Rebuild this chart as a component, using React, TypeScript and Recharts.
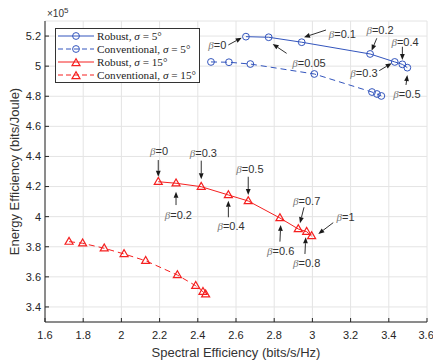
import {
  CartesianGrid,
  ComposedChart,
  Label,
  Legend,
  Line,
  ReferenceDot,
  ReferenceLine,
  XAxis,
  YAxis,
} from "recharts";

// energy efficiency is in units of 1e5 bits/Joule
const robust5X = [2.652, 2.771, 2.944, 3.302, 3.431, 3.471, 3.497];
const robust5Y = [5.196, 5.192, 5.159, 5.081, 5.028, 5.012, 4.99];
const conv5X = [2.469, 2.563, 2.675, 3.01, 3.312, 3.338, 3.361];
const conv5Y = [5.028, 5.026, 5.014, 4.948, 4.828, 4.815, 4.802];
const robust15X = [2.193, 2.286, 2.418, 2.56, 2.664, 2.83, 2.926, 2.97, 2.996];
const robust15Y = [4.232, 4.222, 4.199, 4.144, 4.104, 3.991, 3.918, 3.9, 3.871];
const conv15X = [1.726, 1.797, 1.91, 2.014, 2.127, 2.293, 2.389, 2.427, 2.441];
const conv15Y = [3.834, 3.823, 3.79, 3.752, 3.707, 3.612, 3.541, 3.501, 3.484];

const xTicks = [1.6, 1.8, 2, 2.2, 2.4, 2.6, 2.8, 3, 3.2, 3.4, 3.6];
const yTicks = [3.4, 3.6, 3.8, 4, 4.2, 4.4, 4.6, 4.8, 5, 5.2];

// beta annotations: label position, arrow tail, arrow head (data coords)
const betaNotes = [
  { beta: "0", lx: 2.502, ly: 5.141, tx: 2.56, ty: 5.141, hx: 2.63, hy: 5.189 },
  { beta: "0.05", lx: 2.982, ly: 5.019, tx: 2.865, ty: 5.085, hx: 2.792, hy: 5.147 },
  { beta: "0.1", lx: 3.157, ly: 5.214, tx: 3.071, ty: 5.24, hx: 2.956, hy: 5.192 },
  { beta: "0.2", lx: 3.354, ly: 5.24, tx: 3.337, ty: 5.185, hx: 3.31, hy: 5.103 },
  { beta: "0.3", lx: 3.27, ly: 4.956, tx: 3.35, ty: 4.97, hx: 3.415, hy: 5.019 },
  { beta: "0.4", lx: 3.485, ly: 5.162, tx: 3.471, ty: 5.129, hx: 3.471, hy: 5.041 },
  { beta: "0.5", lx: 3.495, ly: 4.815, tx: 3.49, ty: 4.875, hx: 3.497, hy: 4.941 },
  { beta: "0", lx: 2.197, ly: 4.438, tx: 2.193, ty: 4.376, hx: 2.193, hy: 4.265 },
  { beta: "0.2", lx: 2.298, ly: 4.011, tx: 2.286, ty: 4.077, hx: 2.286, hy: 4.166 },
  { beta: "0.3", lx: 2.429, ly: 4.421, tx: 2.418, ty: 4.372, hx: 2.418, hy: 4.248 },
  { beta: "0.4", lx: 2.574, ly: 3.938, tx: 2.56, ty: 3.996, hx: 2.56, hy: 4.106 },
  { beta: "0.5", lx: 2.673, ly: 4.315, tx: 2.664, ty: 4.265, hx: 2.664, hy: 4.144 },
  { beta: "0.6", lx: 2.834, ly: 3.774, tx: 2.83, ty: 3.834, hx: 2.834, hy: 3.945 },
  { beta: "0.7", lx: 2.97, ly: 4.106, tx: 2.956, ty: 4.062, hx: 2.935, hy: 3.956 },
  { beta: "0.8", lx: 2.97, ly: 3.693, tx: 2.961, ty: 3.752, hx: 2.965, hy: 3.863 },
  { beta: "1", lx: 3.174, ly: 3.996, tx: 3.109, ty: 3.96, hx: 3.031, hy: 3.885 },
];

const toData = (xs: number[], ys: number[]) => xs.map((x, i) => ({ x, y: ys[i] }));

const BLUE = "#3355bd";
const RED = "#f52020";
const AXIS = "#262626";

const Triangle = (props: any) => {
  const { cx, cy, stroke } = props;
  if (cx == null || cy == null) return null;
  return (
    <polygon
      points={`${cx},${cy - 4.3} ${cx - 4},${cy + 2.6} ${cx + 4},${cy + 2.6}`}
      fill="none"
      stroke={stroke}
      strokeWidth={1.2}
    />
  );
};

const Arrow = (props: any) => {
  const { x1, y1, x2, y2 } = props;
  const len = Math.hypot(x2 - x1, y2 - y1) || 1;
  const ux = (x2 - x1) / len;
  const uy = (y2 - y1) / len;
  const bx = x2 - ux * 6;
  const by = y2 - uy * 6;
  return (
    <g>
      <line x1={x1} y1={y1} x2={bx} y2={by} stroke="#1a1a1a" strokeWidth={0.9} />
      <polygon
        points={`${x2},${y2} ${bx - uy * 2.4},${by + ux * 2.4} ${bx + uy * 2.4},${by - ux * 2.4}`}
        fill="#1a1a1a"
      />
    </g>
  );
};

const BetaText = ({ cx, cy, value }: { cx: number; cy: number; value: string }) => (
  <text x={cx} y={cy} textAnchor="middle" dominantBaseline="central" fontSize={11}>
    <tspan fontFamily="Liberation Serif" fontStyle="italic" fill="#777">
      β
    </tspan>
    <tspan fontFamily="Liberation Sans, Arial" fill="#333">
      ={value}
    </tspan>
  </text>
);

const legendItems = [
  { name: "Robust", deg: "5", color: BLUE, dash: undefined, shape: "circle" },
  { name: "Conventional", deg: "5", color: BLUE, dash: "5 3", shape: "circle" },
  { name: "Robust", deg: "15", color: RED, dash: undefined, shape: "triangle" },
  { name: "Conventional", deg: "15", color: RED, dash: "5 3", shape: "triangle" },
];

const LegendBox = () => (
  <div
    style={{
      border: "1px solid #333",
      background: "#fff",
      padding: "1px 3px 1px 1px",
      fontFamily: "Liberation Serif, serif",
      fontSize: 11.2,
      color: "#222",
      whiteSpace: "nowrap",
    }}
  >
    {legendItems.map((it, i) => (
      <div key={i} style={{ display: "flex", alignItems: "center", height: 12.8 }}>
        <svg width={38} height={12} style={{ marginRight: 2 }}>
          <line x1={1} y1={6} x2={37} y2={6} stroke={it.color} strokeDasharray={it.dash} />
          {it.shape === "circle" ? (
            <circle cx={19} cy={6} r={3.4} fill="none" stroke={it.color} />
          ) : (
            <Triangle cx={19} cy={7} stroke={it.color} />
          )}
        </svg>
        <span>
          {it.name}, <i>σ</i> = {it.deg}°
        </span>
      </div>
    ))}
  </div>
);

export default function App() {
  const robust5 = toData(robust5X, robust5Y);
  const conv5 = toData(conv5X, conv5Y);
  const robust15 = toData(robust15X, robust15Y);
  const conv15 = toData(conv15X, conv15Y);

  return (
    <div style={{ width: 433, height: 362 }}>
      <style>{"body{margin:0}"}</style>
      <ComposedChart width={433} height={362} margin={{ top: 21, right: 6, bottom: 0, left: 0 }}>
        <CartesianGrid stroke="#e4e4e4" />
        <XAxis
          dataKey="x"
          type="number"
          domain={[1.6, 3.6]}
          ticks={xTicks}
          height={40}
          tickSize={-4}
          tickMargin={13}
          stroke={AXIS}
          tick={{ fill: AXIS, fontSize: 11, fontFamily: "Liberation Sans, Arial" }}
        >
          <Label
            content={(p: any) => {
              const vb = p.viewBox || { x: 45, y: 322, width: 382 };
              return (
                <text
                  x={vb.x + vb.width / 2}
                  y={vb.y + 34.5}
                  textAnchor="middle"
                  fontSize={13}
                  fontFamily="Liberation Sans, Arial"
                  fill="#333"
                >
                  Spectral Efficiency (bits/s/Hz)
                </text>
              );
            }}
          />
        </XAxis>
        <XAxis
          xAxisId="top"
          orientation="top"
          type="number"
          domain={[1.6, 3.6]}
          ticks={xTicks}
          height={0}
          tickSize={-4}
          tick={false}
          stroke={AXIS}
        />
        <YAxis
          type="number"
          domain={[3.3, 5.3]}
          ticks={yTicks}
          width={45}
          tickSize={-4}
          tickMargin={8}
          stroke={AXIS}
          tick={{ fill: AXIS, fontSize: 11, fontFamily: "Liberation Sans, Arial" }}
        >
          <Label
            content={(p: any) => {
              const vb = p.viewBox || { x: 0, y: 21, width: 45, height: 301 };
              const cx = vb.x + 14;
              const cy = vb.y + vb.height / 2;
              return (
                <text
                  x={cx}
                  y={cy}
                  transform={`rotate(-90 ${cx} ${cy})`}
                  textAnchor="middle"
                  dominantBaseline="central"
                  fontSize={13}
                  fontFamily="Liberation Sans, Arial"
                  fill="#333"
                >
                  Energy Efficiency (bits/Joule)
                </text>
              );
            }}
          />
          <Label
            content={(p: any) => {
              const vb = p.viewBox || { x: 0, y: 21, width: 45 };
              return (
                <text x={vb.x + vb.width + 2} y={vb.y - 4} fontSize={10} fontFamily="Liberation Sans, Arial" fill="#333">
                  ×10
                  <tspan dy={-4} fontSize={8}>
                    5
                  </tspan>
                </text>
              );
            }}
          />
        </YAxis>
        <YAxis
          yAxisId="right"
          orientation="right"
          type="number"
          domain={[3.3, 5.3]}
          ticks={yTicks}
          width={0}
          tickSize={-4}
          tick={false}
          stroke={AXIS}
        />

        <Line
          data={robust5}
          dataKey="y"
          type="linear"
          stroke={BLUE}
          strokeWidth={1}
          dot={{ r: 3.4, fill: "none", stroke: BLUE, strokeWidth: 1 }}
          isAnimationActive={false}
        />
        <Line
          data={conv5}
          dataKey="y"
          type="linear"
          stroke={BLUE}
          strokeWidth={1}
          strokeDasharray="6 4"
          dot={{ r: 3.4, fill: "none", stroke: BLUE, strokeWidth: 1, strokeDasharray: "" }}
          isAnimationActive={false}
        />
        <Line
          data={robust15}
          dataKey="y"
          type="linear"
          stroke={RED}
          strokeWidth={1}
          dot={(p: any) => <Triangle key={p.index} cx={p.cx} cy={p.cy} stroke={RED} />}
          isAnimationActive={false}
        />
        <Line
          data={conv15}
          dataKey="y"
          type="linear"
          stroke={RED}
          strokeWidth={1}
          strokeDasharray="6 4"
          dot={(p: any) => <Triangle key={p.index} cx={p.cx} cy={p.cy} stroke={RED} />}
          isAnimationActive={false}
        />

        {betaNotes.map((n, i) => (
          <ReferenceLine
            key={`a${i}`}
            segment={[
              { x: n.tx, y: n.ty },
              { x: n.hx, y: n.hy },
            ]}
            shape={(p: any) => <Arrow {...p} />}
          />
        ))}
        {betaNotes.map((n, i) => (
          <ReferenceDot
            key={`t${i}`}
            x={n.lx}
            y={n.ly}
            r={0}
            shape={(p: any) => <BetaText cx={p.cx} cy={p.cy} value={n.beta} />}
          />
        ))}

        <Legend
          layout="vertical"
          align="center"
          verticalAlign="middle"
          content={() => <LegendBox />}
          wrapperStyle={{ left: 55, top: 28, width: "auto", height: "auto" }}
        />
      </ComposedChart>
    </div>
  );
}
